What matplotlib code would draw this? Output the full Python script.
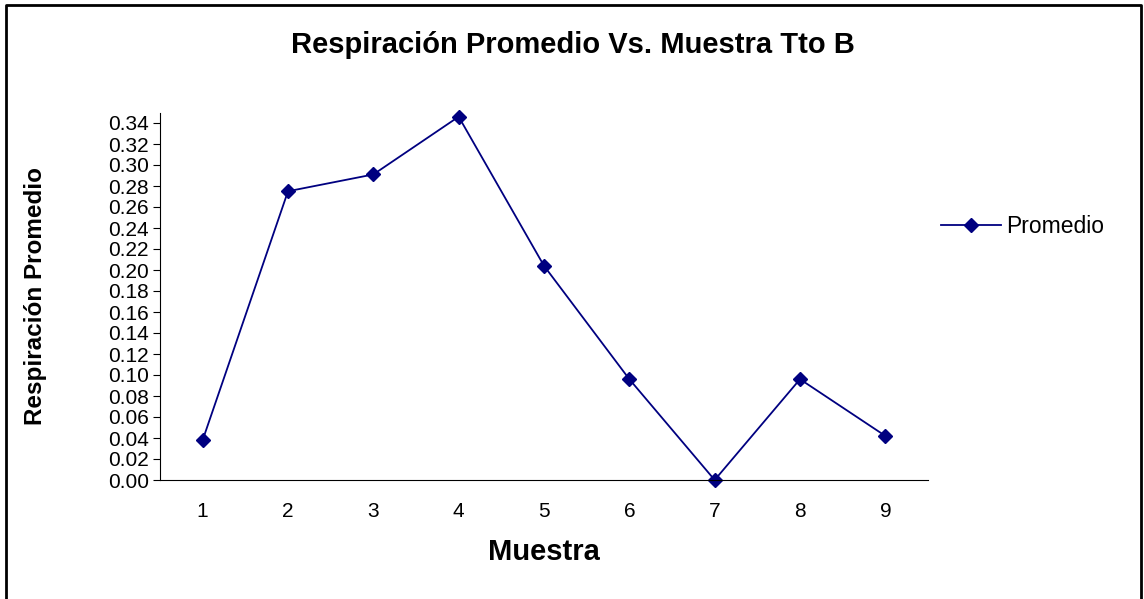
import matplotlib.pyplot as plt
from matplotlib.lines import Line2D

plt.rcParams['font.family'] = ['Liberation Sans', 'DejaVu Sans']

# Data
muestras = [1, 2, 3, 4, 5, 6, 7, 8, 9]
promedio = [0.038, 0.275, 0.291, 0.346, 0.204, 0.096, 0.0, 0.096, 0.042]
y_ticks = [i * 0.02 for i in range(18)]

fig = plt.figure(figsize=(11.44, 5.99), dpi=100)

# outer chart border (bottom edge falls outside the image)
fig.add_artist(Line2D([6 / 1144, 6 / 1144, 1141 / 1144, 1141 / 1144],
                      [-0.01, 1 - 5 / 599, 1 - 5 / 599, -0.01],
                      color='black', lw=2, transform=fig.transFigure))

ax = fig.add_axes([160 / 1144, 1 - 480 / 599, 768 / 1144, 367.5 / 599])
ax.plot(muestras, promedio, color='#000080', marker='D', markersize=7,
        linewidth=1.3, label='Promedio', clip_on=False)

ax.set_xlim(0.5, 9.5)
ax.set_ylim(0, 0.35)
ax.set_yticks(y_ticks)
ax.set_yticklabels([f'{v:.2f}' for v in y_ticks], fontsize=15)
ax.set_xticks(muestras)
ax.set_xticklabels([str(m) for m in muestras], fontsize=15)
ax.tick_params(axis='x', length=0, pad=16)
ax.tick_params(axis='y', length=5, direction='out', pad=3)

ax.spines['top'].set_visible(False)
ax.spines['right'].set_visible(False)

ax.set_xlabel('Muestra', fontsize=21, fontweight='bold', labelpad=12)
ax.set_ylabel('Respiración Promedio', fontsize=17.5, fontweight='bold', labelpad=44)

fig.text(573 / 1144, 1 - 45 / 599, 'Respiración Promedio Vs. Muestra Tto B',
         fontsize=21, fontweight='bold', ha='center', va='center')

ax.legend(loc='center left', bbox_to_anchor=(0.99, 0.69), frameon=False,
          fontsize=16.5, handlelength=2.6, handletextpad=0.25)

fig.savefig('out.png', dpi=100)
